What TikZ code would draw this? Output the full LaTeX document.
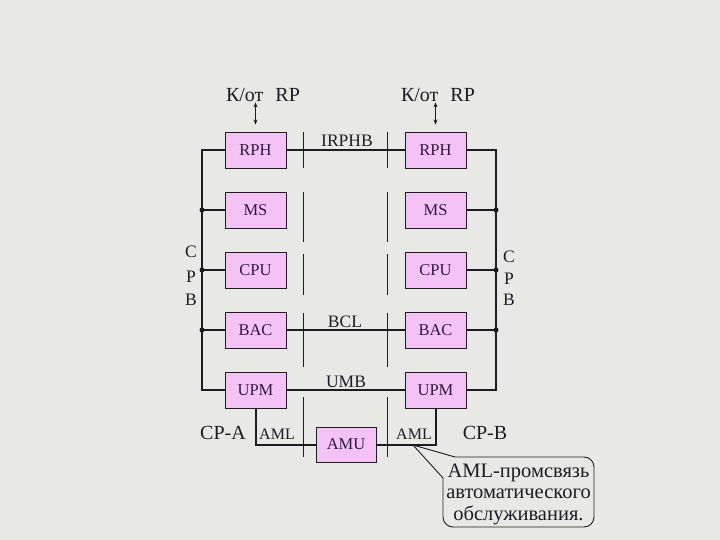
\documentclass[tikz,border=0pt]{standalone}
\usepackage{fontspec}
\setmainfont{Liberation Serif}
\newfontfamily\tnr{Liberation Serif}
\usetikzlibrary{arrows.meta}
\definecolor{bg}{RGB}{232,232,230}
\definecolor{boxpink}{RGB}{245,194,245}
\definecolor{ink}{RGB}{30,28,34}
\definecolor{boxink}{RGB}{48,25,62}
\begin{document}
\begin{tikzpicture}[x=1pt,y=-1pt,
  unit/.style={draw=ink, line width=0.9pt, fill=boxpink, minimum width=61pt, minimum height=36pt, inner sep=0pt, text=boxink, font=\tnr\fontsize{16.5}{16.5}\selectfont},
  bus/.style={line width=2pt, draw=ink},
  divider/.style={line width=1pt, draw=ink},
  lbl/.style={inner sep=0pt, text=ink, anchor=base, font=\tnr\fontsize{17.5}{17.5}\selectfont},
  biglbl/.style={lbl, font=\tnr\fontsize{20}{20}\selectfont},
  smalllbl/.style={lbl, font=\tnr\fontsize{16}{16}\selectfont},
  io/.style={<->, >={Stealth[length=5pt,width=4pt]}, line width=1pt, draw=ink}
]
\fill[bg] (0,0) rectangle (720,540);
\useasboundingbox (0,0) rectangle (720,540);

% units
\node[unit] (rphL) at (255.5,150) {RPH};
\node[unit] (msL)  at (255.5,210) {MS};
\node[unit] (cpuL) at (255.5,270) {CPU};
\node[unit] (bacL) at (255.5,330) {BAC};
\node[unit] (upmL) at (255.5,390) {UPM};
\node[unit] (rphR) at (435.5,150) {RPH};
\node[unit] (msR)  at (435.5,210) {MS};
\node[unit] (cpuR) at (435.5,270) {CPU};
\node[unit] (bacR) at (435.5,330) {BAC};
\node[unit] (upmR) at (435.5,390) {UPM};
\node[unit, minimum width=60pt, minimum height=35pt] (amu) at (346,444.5) {AMU};

% bus coordinates
\coordinate (busL) at (202,0);
\coordinate (busR) at (496,0);

% left CPB bus
\draw[bus] (rphL.west) -- (rphL.west -| busL) -- (upmL.west -| busL) -- (upmL.west);
\foreach \n in {msL,cpuL,bacL}{
  \draw[bus] (\n.west) -- (\n.west -| busL);
  \fill[ink] (\n.west -| busL) circle (2.5pt);
}
% right CPB bus
\draw[bus] (rphR.east) -- (rphR.east -| busR) -- (upmR.east -| busR) -- (upmR.east);
\foreach \n in {msR,cpuR,bacR}{
  \draw[bus] (\n.east) -- (\n.east -| busR);
  \fill[ink] (\n.east -| busR) circle (2.5pt);
}

% inter-side links
\draw[bus] (rphL.east) -- (rphR.west);
\draw[bus] (bacL.east) -- (bacR.west);
\draw[bus] (upmL.east) -- (upmR.west);
\node[lbl] (irphb) at (347,147) {IRPHB};
\node[lbl] (bcl) at (345,327) {BCL};
\node[lbl] (umb) at (346,387) {UMB};

% AML links
\draw[bus] (upmL.south) |- (amu.west);
\draw[bus] (upmR.south) |- (amu.east);
\node[smalllbl] (amlL) at (277,439) {AML};
\node[smalllbl] (amlR) at (414,439) {AML};
\node[biglbl] (cpa) at (223,439) {CP-A};
\node[biglbl] (cpb) at (485,439) {CP-B};

% dividers
\foreach \x in {303,387}{
  \draw[divider] (\x,132) -- (\x,168);
  \draw[divider] (\x,192) -- (\x,242);
  \draw[divider] (\x,254) -- (\x,295);
  \draw[divider] (\x,313) -- (\x,367);
  \draw[divider] (\x,397) -- (\x,457);
}

% CPB letters
\node[lbl] (cL1) at (191,258) {C};
\node[lbl] (cL2) at (191,282) {P};
\node[lbl] (cL3) at (191,305) {B};
\node[lbl] (cR1) at (509,262) {C};
\node[lbl] (cR2) at (509,284) {P};
\node[lbl] (cR3) at (509,305) {B};

% external links
\node[biglbl] (kotL) at (263,102) {К/от\hspace{0.6em}RP};
\node[biglbl] (kotR) at (438,102) {К/от\hspace{0.6em}RP};
\draw[io] (kotL.south -| rphL.north) -- ([yshift=7pt]rphL.north);
\draw[io] (kotR.south -| rphR.north) -- ([yshift=7pt]rphR.north);

% callout
\node[inner sep=0pt, text=ink, align=center, font=\tnr\fontsize{20.5}{21.5}\selectfont] (note) at (518.5,494) {AML-промсвязь\\автоматического\\обслуживания.};
\coordinate (tip) at (413,445);
\draw[ink, line width=0.9pt] (443,478) [sharp corners] -- (tip) -- (455,457)
  [rounded corners=10pt] -- (594,457) -- (594,527) -- (443,527) [sharp corners] -- cycle;
\end{tikzpicture}
\end{document}
